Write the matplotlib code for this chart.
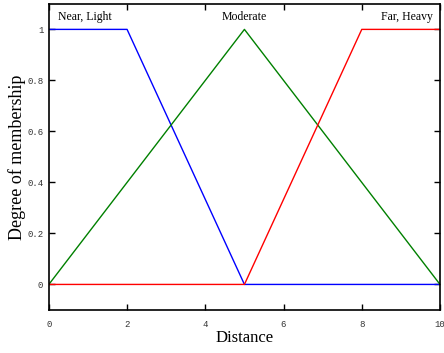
import matplotlib
matplotlib.use("Agg")
import matplotlib.pyplot as plt

# membership function breakpoints
near_x = [0, 2, 5, 10]
near_y = [1, 1, 0, 0]
mod_x = [0, 5, 10]
mod_y = [0, 1, 0]
far_x = [0, 5, 8, 10]
far_y = [0, 0, 1, 1]

labels = ["Near, Light", "Moderate", "Far, Heavy"]

fig = plt.figure(figsize=(4.44, 3.53), dpi=100)
ax = fig.add_axes([0.110, 0.122, 0.881, 0.867])

ax.plot(near_x, near_y, color="blue", lw=1)
ax.plot(mod_x, mod_y, color="green", lw=1)
ax.plot(far_x, far_y, color="red", lw=1)

ax.set_xlim(0, 10)
ax.set_ylim(-0.1, 1.1)
ax.set_xticks([0, 2, 4, 6, 8, 10])
ax.set_yticks([0, 0.2, 0.4, 0.6, 0.8, 1])
ax.set_yticklabels(["0", "0.2", "0.4", "0.6", "0.8", "1"])
ax.tick_params(direction="in", top=True, right=True, length=4, width=1,
               labelsize=6.5, labelcolor="#333333")
ax.tick_params(axis="y", pad=4)
ax.tick_params(axis="x", pad=7)
for lab in ax.get_xticklabels() + ax.get_yticklabels():
    lab.set_family("Liberation Mono")
for sp in ax.spines.values():
    sp.set_linewidth(1.2)

ax.text(0.23, 1.05, labels[0], family="Liberation Serif", fontsize=8.5, va="center", ha="left")
ax.text(5, 1.05, labels[1], family="Liberation Serif", fontsize=8.5, va="center", ha="center")
ax.text(9.82, 1.05, labels[2], family="Liberation Serif", fontsize=8.5, va="center", ha="right")

ax.set_xlabel("Distance", family="Liberation Serif", fontsize=12, labelpad=1)
ax.set_ylabel("Degree of membership", family="Liberation Serif", fontsize=13, labelpad=1)

fig.savefig("out.png", dpi=100)
